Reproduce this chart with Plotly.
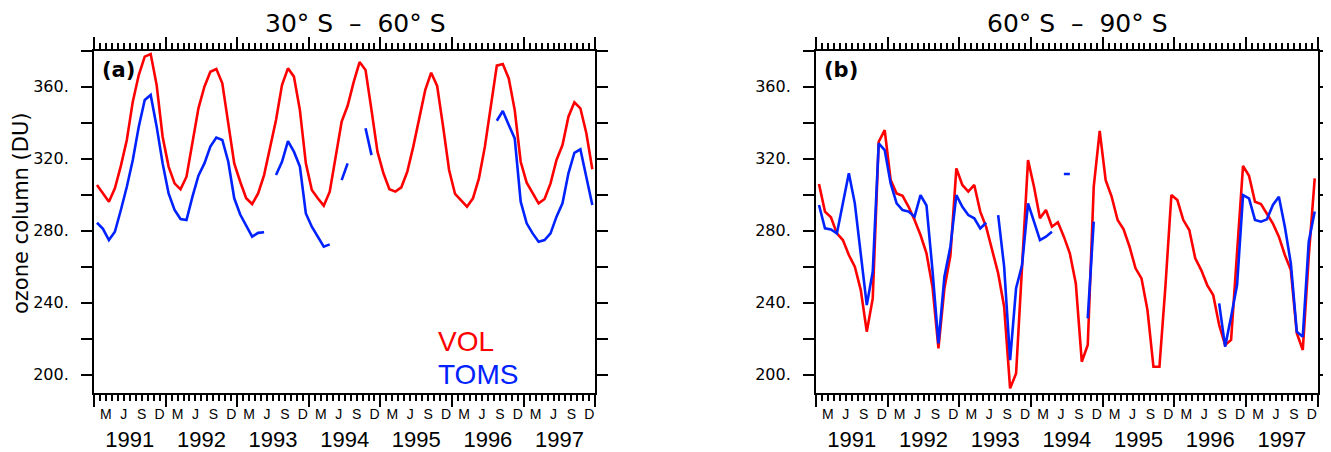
import plotly.graph_objects as go

# ---------------- data (monthly, Jan 1991 .. Dec 1997) ----------------
month_index = list(range(84))

vol_a = [305.4, 300.7, 296.1, 303.5, 316.0, 330.4, 351.7, 366.5, 376.7, 378.1, 360.9, 332.2,
         315.6, 306.3, 303.0, 310.0, 328.5, 348.0, 360.0, 368.3, 369.8, 361.9, 339.6, 317.4,
         307.2, 298.0, 294.8, 300.7, 310.9, 326.7, 341.5, 360.9, 370.2, 365.6, 347.0, 317.4,
         302.6, 298.0, 293.9, 301.7, 321.1, 340.6, 349.4, 362.4, 373.7, 369.3, 347.0, 323.9,
         311.9, 303.0, 301.7, 304.1, 312.8, 326.7, 342.4, 358.1, 367.8, 360.4, 337.8, 313.7,
         300.4, 296.7, 293.3, 298.0, 309.1, 326.7, 350.7, 371.7, 372.6, 364.6, 347.0, 318.3,
         306.7, 301.3, 295.2, 297.6, 306.3, 319.3, 327.6, 343.3, 351.3, 348.0, 334.1, 314.1]

toms_a = [284.4, 281.0, 274.8, 279.4, 291.5, 304.4, 319.3, 337.8, 352.6, 355.4, 337.8, 317.4,
          300.7, 291.5, 286.5, 285.9, 298.9, 310.6, 317.4, 326.7, 331.7, 330.4, 318.3, 298.0,
          289.0, 283.0, 276.7, 278.8, 279.1, None, 310.9, 318.3, 329.8, 323.9, 315.6, 289.6,
          282.2, 276.7, 271.1, 272.4, None, 308.1, 317.4, None, None, 336.9, 322.0, None,
          None, None, None, None, None, None, None, None, None, None, None, None,
          None, None, None, None, None, None, None, 341.1, 346.5, 338.7, 331.3, 296.1,
          284.1, 278.5, 273.9, 274.8, 278.5, 287.8, 295.2, 311.9, 323.3, 325.2, 310.0, 294.3]

vol_b = [305.9, 290.6, 287.5, 278.5, 274.8, 266.5, 260.0, 247.0, 223.9, 242.4, 329.4, 335.9,
         308.1, 300.7, 299.4, 293.3, 285.9, 277.6, 267.4, 248.9, 214.6, 248.0, 266.0, 314.6,
         305.4, 301.7, 305.4, 290.6, 282.0, 269.3, 256.3, 237.8, 192.4, 200.7, 258.0, 319.3,
         304.4, 286.9, 291.5, 282.2, 284.7, 276.7, 267.4, 250.7, 207.2, 216.5, 304.4, 335.5,
         308.1, 298.9, 285.9, 280.8, 271.1, 259.1, 253.5, 235.9, 204.4, 204.4, 248.9, 299.8,
         297.0, 285.9, 280.4, 264.6, 258.1, 249.8, 244.3, 227.6, 216.5, 219.3, 268.0, 316.0,
         310.5, 296.1, 294.8, 289.6, 284.0, 276.7, 266.5, 258.1, 223.0, 213.7, 265.6, 309.1]

toms_b = [294.3, 281.3, 280.7, 278.5, 295.2, 311.9, 295.2, 265.6, 238.7, 257.2, 328.5, 324.8,
          306.3, 295.2, 291.5, 290.6, 287.8, 299.8, 294.0, 258.1, 217.4, 254.4, 271.1, 299.8,
          293.3, 288.7, 286.9, 281.3, 284.4, None, 288.7, 260.0, 208.1, 248.0, 260.9, 295.2,
          285.0, 274.8, 276.7, 279.4, None, 311.5, 311.5, None, None, 231.3, 285.0, None,
          None, None, None, None, None, None, None, None, None, None, None, None,
          None, None, None, None, None, None, None, 239.6, 215.6, 232.2, 249.8, 299.8,
          298.0, 286.0, 285.0, 286.3, 294.3, 298.9, 282.2, 261.9, 223.9, 221.1, 273.9, 290.6]

years = ["1991", "1992", "1993", "1994", "1995", "1996", "1997"]
season_letters = ["M", "J", "S", "D"]
season_month = [2, 5, 8, 11]          # month offset within a year
y_ticks = [200, 240, 280, 320, 360]
y_ticktext = ["200.", "240.", "280.", "320.", "360."]
panel_titles = ["30\u00b0 S \u00a0\u2013\u00a0 60\u00b0 S", "60\u00b0 S \u00a0\u2013\u00a0 90\u00b0 S"]
panel_tags = ["(a)", "(b)"]

RED = "#ff0000"
BLUE = "#0022ff"
FONT = "Liberation Sans"
GEO = "DejaVu Sans"

x_mid = [m + 0.5 for m in month_index]
season_pos = [12 * k + s for k in range(len(years)) for s in season_month]
season_txt = [season_letters[j] for k in range(len(years)) for j in range(4)]
year_pos = [12 * k + 6 for k in range(len(years))]

# the page body has an 8 px margin: size the figure so it fits the 1331x452 window
OFF = 8
W, H = 1331 - OFF, 452 - OFF


def fx(sx):
    return (sx - OFF) / W


def fy(sy):
    return (H - (sy - OFF)) / H


dom_a = [fx(94), fx(595.3)]
dom_b = [fx(816), fx(1317.7)]
dom_y = [fy(392.7), fy(50.7)]

fig = go.Figure()
line_w = 2.6
fig.add_trace(go.Scatter(x=x_mid, y=vol_a, mode="lines", line=dict(color=RED, width=line_w),
                         name="VOL", xaxis="x", yaxis="y"))
fig.add_trace(go.Scatter(x=x_mid, y=toms_a, mode="lines", line=dict(color=BLUE, width=line_w),
                         name="TOMS", xaxis="x", yaxis="y"))
fig.add_trace(go.Scatter(x=x_mid, y=vol_b, mode="lines", line=dict(color=RED, width=line_w),
                         name="VOL", xaxis="x2", yaxis="y2"))
fig.add_trace(go.Scatter(x=x_mid, y=toms_b, mode="lines", line=dict(color=BLUE, width=line_w),
                         name="TOMS", xaxis="x2", yaxis="y2"))
# invisible carriers so the label-only overlay axes get drawn
for xa, ya, yy in [("x3", "y", vol_a), ("x5", "y", vol_a), ("x4", "y2", vol_b), ("x6", "y2", vol_b)]:
    fig.add_trace(go.Scatter(x=x_mid, y=yy, mode="lines", line=dict(width=0), opacity=0,
                             hoverinfo="skip", xaxis=xa, yaxis=ya))


def main_x(dom, anchor):
    return dict(domain=dom, anchor=anchor, range=[0, 84], tickvals=list(range(0, 85, 12)),
                ticks="outside", ticklen=12, tickwidth=2, tickcolor="black",
                showticklabels=False,
                minor=dict(dtick=1, tick0=0, ticks="outside", ticklen=6, tickwidth=1.5,
                           tickcolor="black"),
                showline=True, linewidth=2, linecolor="black", mirror="ticks",
                showgrid=False, zeroline=False)


def main_y(anchor):
    return dict(domain=dom_y, anchor=anchor, range=[190, 380], tickvals=y_ticks,
                ticktext=y_ticktext, ticks="outside", ticklen=11, tickwidth=2,
                tickcolor="black",
                minor=dict(dtick=20, tick0=200, ticks="outside", ticklen=11, tickwidth=2,
                           tickcolor="black"),
                showline=True, linewidth=2, linecolor="black", mirror="ticks",
                showgrid=False, zeroline=False, ticklabelstandoff=9,
                tickfont=dict(family=GEO, size=16, color="black"))


def label_x(dom, over, anchor, vals, txt, size, standoff):
    return dict(domain=dom, overlaying=over, anchor=anchor, side="bottom", range=[0, 84],
                tickmode="array", tickvals=vals, ticktext=txt, ticks="", showline=False,
                showgrid=False, zeroline=False, ticklabelstandoff=standoff,
                tickfont=dict(family=FONT, size=size, color="black"))


fig.update_layout(
    width=W, height=H,
    margin=dict(l=0, r=0, t=0, b=0, autoexpand=False),
    paper_bgcolor="white", plot_bgcolor="white",
    showlegend=False,
    xaxis=main_x(dom_a, "y"),
    yaxis=main_y("x"),
    xaxis2=main_x(dom_b, "y2"),
    yaxis2=main_y("x2"),
    xaxis3=label_x(dom_a, "x", "y", season_pos, season_txt, 14, 11),
    xaxis4=label_x(dom_b, "x2", "y2", season_pos, season_txt, 14, 11),
    xaxis5=label_x(dom_a, "x", "y", year_pos, years, 22, 31),
    xaxis6=label_x(dom_b, "x2", "y2", year_pos, years, 22, 31),
)

ann = []
for k, (xd, xr, yr) in enumerate([(dom_a, "x", "y"), (dom_b, "x2", "y2")]):
    ann.append(dict(text=panel_titles[k], xref="paper", yref="paper",
                    x=(xd[0] + xd[1]) / 2 + 11 / W, y=fy(24), xanchor="center",
                    yanchor="middle", showarrow=False,
                    font=dict(family=GEO, size=25, color="black")))
    ann.append(dict(text="<b>" + panel_tags[k] + "</b>", xref=xr + " domain", yref=yr + " domain",
                    x=0.012, y=0.945, xanchor="left", yanchor="middle", showarrow=False,
                    font=dict(family=GEO, size=21, color="black")))
ann.append(dict(text="ozone column (DU)", xref="paper", yref="paper", x=fx(21),
                y=fy(213), textangle=-90, xanchor="center", yanchor="middle",
                showarrow=False, font=dict(family=GEO, size=21, color="black")))
ann.append(dict(text="VOL", xref="x domain", yref="y domain", x=0.683, y=0.151,
                xanchor="left", yanchor="middle", showarrow=False,
                font=dict(family=FONT, size=28, color=RED)))
ann.append(dict(text="TOMS", xref="x domain", yref="y domain", x=0.683, y=0.053,
                xanchor="left", yanchor="middle", showarrow=False,
                font=dict(family=FONT, size=28, color=BLUE)))
fig.update_layout(annotations=ann)

fig.write_html("out.html")
